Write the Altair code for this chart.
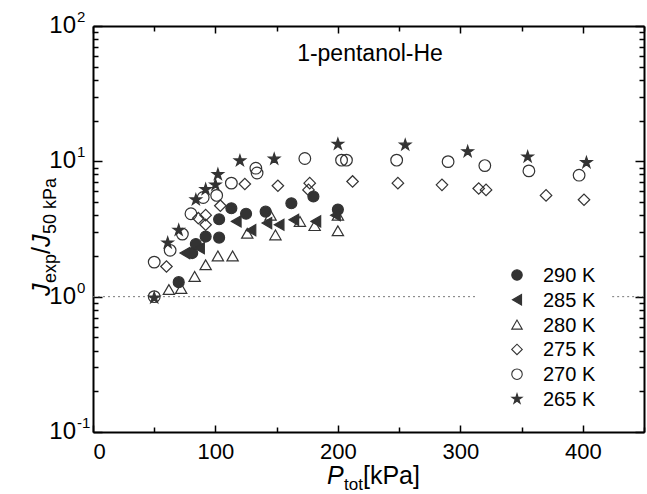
import altair as alt
import pandas as pd

# ---------------- data ----------------
temps = ["290 K", "285 K", "280 K", "275 K", "270 K", "265 K"]

p_290 = [70, 81, 84, 92, 103, 103, 113, 125, 141, 162, 180, 200]
j_290 = [1.28, 2.1, 2.45, 2.78, 2.73, 3.73, 4.5, 4.1, 4.25, 4.9, 5.5, 4.4]

p_285 = [75, 87, 117, 129, 142, 152, 164, 182, 198]
j_285 = [2.1, 2.28, 3.6, 3.1, 3.5, 3.4, 3.7, 3.6, 4.0]

p_280 = [62, 72, 83, 92, 102, 114, 126, 145, 149, 169, 181, 200, 200]
j_280 = [1.13, 1.15, 1.41, 1.72, 2.0, 2.0, 2.94, 4.0, 2.86, 3.6, 3.35, 4.0, 3.07]

p_275 = [60, 86, 92, 92, 104, 124, 151, 176, 177, 212, 249, 285, 315, 321, 370, 401]
j_275 = [1.67, 3.8, 4.0, 3.4, 4.7, 6.8, 6.6, 6.15, 6.9, 7.1, 6.9, 6.7, 6.3, 6.15, 5.6, 5.2]

p_270 = [50, 50, 63, 73, 80, 90, 101, 113, 133, 134, 173, 203, 207, 248, 290, 320, 356, 397]
j_270 = [1.0, 1.8, 2.2, 2.9, 4.1, 5.4, 5.6, 6.9, 8.9, 8.2, 10.5, 10.2, 10.2, 10.2, 9.95, 9.3, 8.5, 7.9]

p_265 = [50, 61, 70, 84, 92, 100, 102, 120, 148, 200, 255, 306, 355, 403]
j_265 = [0.98, 2.5, 3.1, 5.2, 6.2, 6.7, 8.0, 10.1, 10.4, 13.4, 13.2, 11.8, 10.8, 9.8]

x_ticks = [0, 50, 100, 150, 200, 250, 300, 350, 400, 450]
x_labels = [0, 100, 200, 300, 400]
y_decades = [0.1, 1, 10, 100]
y_exps = ["-1", "0", "1", "2"]
y_ticks = [d * k for d in [0.1, 1, 10] for k in range(1, 10)] + [100]

ref_y = [1, 1]
ref_x0 = [0, 424]
ref_x1 = [314, 450]

rows = []
for t, xs, ys in zip(temps, [p_290, p_285, p_280, p_275, p_270, p_265],
                     [j_290, j_285, j_280, j_275, j_270, j_265]):
    for a, b in zip(xs, ys):
        rows.append({"T": t, "P": a, "J": b})
df = pd.DataFrame(rows)
ref_df = pd.DataFrame({"x0": ref_x0, "x1": ref_x1, "y": ref_y})
ylab_df = pd.DataFrame({"v": y_decades, "e": y_exps, "b": ["10"] * 4})
leg_df = pd.DataFrame({"T": temps})

# ---------------- style ----------------
W, H = 551, 406
FONT = "Liberation Sans"
DARK = "#333333"
star_path = ("M0,-1L0.2245,-0.309L0.951,-0.309L0.363,0.118L0.588,0.809L0,0.382"
             "L-0.588,0.809L-0.363,0.118L-0.951,-0.309L-0.2245,-0.309Z")
shape_range = ["circle", "triangle-left", "triangle-up", "diamond", "circle", star_path]
fill_range = [DARK, DARK, "transparent", "transparent", "transparent", DARK]
size_range = [120, 140, 150, 190, 115, 170]
leg_size_range = [95, 110, 120, 150, 95, 140]

xscale = alt.Scale(domain=[0, 450], nice=False, zero=False)
yscale = alt.Scale(type="log", domain=[0.1, 100], nice=False)
shape_scale = alt.Scale(domain=temps, range=shape_range)
fill_scale = alt.Scale(domain=temps, range=fill_range)

xmaj = {"condition": {"test": "datum.value % 100 === 0", "value": 7}, "value": 5}
ymaj = {"condition": {"test": "abs(log(datum.value)/LN10 - round(log(datum.value)/LN10)) < 0.001",
                      "value": 9}, "value": 5}

points = alt.Chart(df).mark_point(strokeWidth=1.2, opacity=1).encode(
    x=alt.X("P:Q", scale=xscale,
            axis=alt.Axis(orient="bottom", values=x_labels, ticks=False, grid=False,
                          domain=True, domainColor="black", domainWidth=2,
                          labelFont=FONT, labelFontSize=22, labelColor="black",
                          labelPadding=9, title=None)),
    y=alt.Y("J:Q", scale=yscale,
            axis=alt.Axis(orient="left", values=y_decades, labels=False, ticks=False,
                          grid=False, domain=True, domainColor="black", domainWidth=2,
                          title=None)),
    shape=alt.Shape("T:N", scale=shape_scale, legend=None),
    fill=alt.Fill("T:N", scale=fill_scale, legend=None),
    size=alt.Size("T:N", scale=alt.Scale(domain=temps, range=size_range), legend=None),
    stroke=alt.value(DARK),
)

leg_scale = alt.Scale(type="point", domain=temps, range=[249, 373], padding=0)
leg_pts = alt.Chart(leg_df).mark_point(strokeWidth=1.1, opacity=1, stroke=DARK).encode(
    x=alt.value(424),
    y=alt.Y("T:N", scale=leg_scale, axis=None),
    shape=alt.Shape("T:N", scale=shape_scale, legend=None),
    fill=alt.Fill("T:N", scale=fill_scale, legend=None),
    size=alt.value(110),
)
leg_txt = alt.Chart(leg_df).mark_text(align="left", baseline="middle", font=FONT,
                                      fontSize=20, color="black", dy=1).encode(
    x=alt.value(450),
    y=alt.Y("T:N", scale=leg_scale, axis=None),
    text="T:N",
)

ticks_a = alt.Chart(df).mark_point(opacity=0).encode(
    x=alt.X("P:Q", scale=xscale,
            axis=alt.Axis(orient="top", offset=-H, values=x_ticks, labels=False,
                          tickSize=xmaj, tickColor="black", tickWidth=1.5,
                          domain=False, grid=False, title=None)),
    y=alt.Y("J:Q", scale=yscale,
            axis=alt.Axis(orient="right", offset=-W, values=y_ticks, labels=False,
                          tickSize=ymaj, tickColor="black", tickWidth=1.5,
                          domain=False, grid=False, title=None)),
)

ticks_b = alt.Chart(df).mark_point(opacity=0).encode(
    x=alt.X("P:Q", scale=xscale,
            axis=alt.Axis(orient="bottom", offset=-H, values=x_ticks, labels=False,
                          tickSize=xmaj, tickColor="black", tickWidth=1.5,
                          domain=True, domainColor="black", domainWidth=2,
                          grid=False, title=None)),
    y=alt.Y("J:Q", scale=yscale,
            axis=alt.Axis(orient="left", offset=-W, values=y_ticks, labels=False,
                          tickSize=ymaj, tickColor="black", tickWidth=1.5,
                          domain=True, domainColor="black", domainWidth=2,
                          grid=False, title=None)),
)

ref = alt.Chart(ref_df).mark_rule(color="#777777", strokeDash=[2, 3], strokeWidth=1).encode(
    x=alt.X("x0:Q", scale=xscale, axis=None),
    x2="x1:Q",
    y=alt.Y("y:Q", scale=yscale, axis=None),
)

ybase = alt.Chart(ylab_df).mark_text(align="right", baseline="middle", font=FONT,
                                     fontSize=24, color="black").encode(
    x=alt.value(-17), y=alt.Y("v:Q", scale=yscale, axis=None), text="b:N")
yexp = alt.Chart(ylab_df).mark_text(align="left", baseline="middle", font=FONT,
                                    fontSize=15, color="black", dy=-9).encode(
    x=alt.value(-16), y=alt.Y("v:Q", scale=yscale, axis=None), text="e:N")


def txt(s, x, y, size, italic=False, angle=0, align="left", baseline="alphabetic"):
    kw = dict(align=align, baseline=baseline, font=FONT, fontSize=size, color="black")
    if italic:
        kw["fontStyle"] = "italic"
    if angle:
        kw["angle"] = angle
    return alt.Chart(pd.DataFrame({"t": [s]})).mark_text(**kw).encode(
        x=alt.value(x), y=alt.value(y), text="t:N")


texts = [
    txt("1-pentanol-He", 277, 35, 23, align="center"),
    txt("P", 234, 458, 25, italic=True),
    txt("tot", 251, 464, 17),
    txt("[kPa]", 270, 458, 25),
    txt("J", -43, 270, 25, italic=True, angle=270),
    txt("exp", -37, 257, 18, angle=270),
    txt("/", -43, 228, 25, angle=270),
    txt("J", -43, 221, 25, italic=True, angle=270),
    txt("50 kPa", -37, 208, 18, angle=270),
]

chart = alt.layer(ref, ticks_a, ticks_b, points, leg_pts, leg_txt, ybase, yexp, *texts
).resolve_axis(
    x="independent", y="independent"
).resolve_scale(
    y="independent"
).properties(
    width=W, height=H, autosize="none",
    padding={"left": 93, "top": 26, "right": 3, "bottom": 62},
    background="white",
).configure_view(stroke=None)

chart.save("out.html", embed_options={"renderer": "svg", "actions": False})
